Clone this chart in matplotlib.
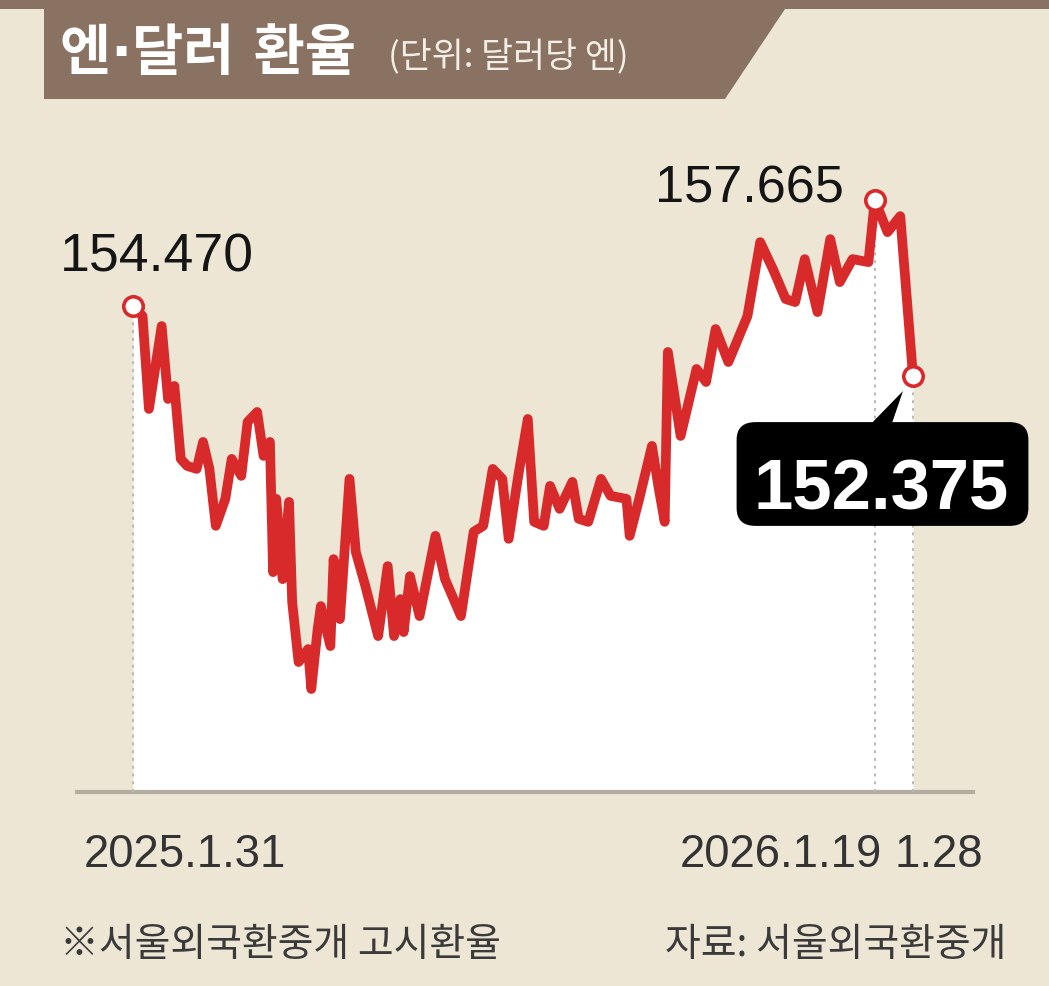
import matplotlib
matplotlib.use("Agg")
import matplotlib.pyplot as plt
import matplotlib.font_manager as fm
from matplotlib.patches import Polygon, FancyBboxPatch

# 엔·달러 환율 (서울외국환중개 고시환율), 거래일 순번 기준
day_idx = [0, 3, 5, 9, 11, 13, 15, 17, 20, 22, 24, 26, 29, 31, 34, 36, 39, 41, 43, 44,
           45, 47, 49, 50, 52, 55, 56, 58, 59, 62, 63, 65, 68, 70, 73, 77, 80, 82, 84, 85,
           87, 90, 95, 98, 103, 107, 110, 113, 116, 118, 121, 124, 126, 129, 131, 134, 138,
           140, 143, 147, 150, 155, 156, 159, 163, 165, 167, 168, 172, 177, 180, 183, 187,
           190, 193, 197, 201, 205, 208, 211, 215, 219, 222, 226, 231, 233, 237, 241, 245]
rates = [154.47, 154.18, 151.39, 153.88, 151.69, 152.08, 149.89, 149.68, 149.59, 150.40,
         149.59, 147.88, 148.69, 149.89, 149.38, 151.00, 151.30, 149.98, 150.40, 146.49,
         148.69, 146.28, 148.60, 145.59, 143.79, 144.18, 142.98, 144.78, 145.47, 144.27,
         146.88, 145.08, 149.29, 147.09, 146.07, 144.57, 146.67, 144.57, 145.68, 144.69,
         146.37, 145.17, 147.58, 146.28, 145.17, 147.70, 147.88, 149.59, 149.29, 147.49,
         149.38, 151.09, 148.00, 147.88, 149.08, 148.39, 149.20, 148.09, 148.00, 149.29,
         148.78, 148.69, 147.58, 148.69, 150.28, 149.08, 148.00, 153.10, 150.58, 152.59,
         152.20, 153.79, 152.80, 153.49, 154.18, 156.40, 155.59, 154.69, 154.60, 155.89,
         154.30, 156.49, 155.20, 155.89, 155.80, 157.665, 156.70, 157.18, 152.375]

mark_idx = [0, 233, 245]          # 시작, 최고, 마지막
mark_labels = ["154.470", "157.665", "152.375"]
tick_labels = ["2025.1.31", "2026.1.19", "1.28"]

title = "엔·달러 환율"
unit = "(단위: 달러당 엔)"
note = "※서울외국환중개 고시환율"
source = "자료: 서울외국환중개"

BG = "#ede6d5"
BROWN = "#8a7262"
RED = "#d8292b"
W, H = 1049, 987

names = {f.name for f in fm.fontManager.ttflist}
if "Liberation Sans Narrow" in names:
    NUM_FONT, k = "Liberation Sans Narrow", 1.0
else:
    NUM_FONT, k = "Liberation Sans", 0.82
KR = ["Noto Sans CJK KR", "DejaVu Sans"]

def fx(x):
    return x / W

def fy(y):
    return 1 - y / H

fig = plt.figure(figsize=(W / 100, H / 100), dpi=100)
fig.patch.set_facecolor(BG)

# 제목 띠
bar = Polygon([(fx(0), fy(0)), (fx(W), fy(0)), (fx(W), fy(10)), (fx(785), fy(10)),
               (fx(725), fy(100)), (fx(44), fy(100)), (fx(44), fy(10)), (fx(0), fy(10))],
              closed=True, transform=fig.transFigure, facecolor=BROWN, edgecolor="none")
fig.patches.append(bar)
# 가운뎃점은 DejaVu(좁은 폭), 한글은 Noto CJK 로
fig.text(fx(60), fy(55), title, family=["DejaVu Sans", "Noto Sans CJK KR"], fontsize=40,
         fontweight="bold", color="white", va="center", ha="left")
fig.text(fx(388), fy(58), unit, family=KR, fontsize=25, color="#f4efe6",
         va="center", ha="left")

# 차트 영역
ax = fig.add_axes([fx(77), fy(793), fx(973) - fx(77), fy(150) - fy(793)])
ax.set_facecolor("none")
px_per_idx = (913 - 133) / 245
ax.set_xlim(-(133 - 77) / px_per_idx, 245 + (973 - 913) / px_per_idx)
ymin = 157.665 - (793 - 201) / 33.3
ymax = 157.665 + (201 - 150) / 33.3
ax.set_ylim(ymin, ymax)
for s in ax.spines.values():
    s.set_visible(False)
ax.set_xticks([])
ax.set_yticks([])

ax.fill_between(day_idx, rates, ymin, color="white", lw=0, zorder=1)
ax.axhline(ymin, color="#b3ada1", lw=3, zorder=2, clip_on=False)
mark_vals = [rates[day_idx.index(i)] for i in mark_idx]
ax.vlines(mark_idx, ymin, mark_vals, colors="#b9b9b9", linestyles=(0, (1.5, 2.5)),
          lw=1.4, zorder=2)
ax.plot(day_idx, rates, color=RED, lw=7, solid_joinstyle="round",
        solid_capstyle="round", zorder=3)
ax.plot(mark_idx, mark_vals, "o", ms=14, mfc="white", mec=RED, mew=2.6, zorder=4)

# 값 라벨
fig.text(fx(60), fy(272), mark_labels[0], family=NUM_FONT, fontsize=47 * k,
         color="#151515", ha="left", va="baseline")
fig.text(fx(844), fy(203), mark_labels[1], family=NUM_FONT, fontsize=46 * k,
         color="#151515", ha="right", va="baseline")

box = FancyBboxPatch((fx(745), fy(519)), fx(1020) - fx(745), fy(431) - fy(519),
                     boxstyle="round,pad=0.008,rounding_size=0.018",
                     transform=fig.transFigure, facecolor="black", edgecolor="none")
fig.patches.append(box)
tip = Polygon([(fx(866), fy(430)), (fx(890), fy(430)), (fx(903), fy(392))], closed=True,
              transform=fig.transFigure, facecolor="black", edgecolor="none")
fig.patches.append(tip)
fig.text(fx(754), fy(510), mark_labels[2], family=NUM_FONT, fontsize=62 * k,
         fontweight="bold", color="white", ha="left", va="baseline")

# 날짜
fig.text(fx(84), fy(867), tick_labels[0], family=NUM_FONT, fontsize=40 * k,
         color="#333333", ha="left", va="baseline")
fig.text(fx(882), fy(867), tick_labels[1], family=NUM_FONT, fontsize=40 * k,
         color="#333333", ha="right", va="baseline")
fig.text(fx(895), fy(867), tick_labels[2], family=NUM_FONT, fontsize=40 * k,
         color="#333333", ha="left", va="baseline")

# 주석, 출처
fig.text(fx(60), fy(945), note, family=KR, fontsize=28, color="#3a3a3a",
         ha="left", va="center")
fig.text(fx(1006), fy(945), source, family=KR, fontsize=28, color="#3a3a3a",
         ha="right", va="center")

fig.savefig("out.png", dpi=100, facecolor=BG)
